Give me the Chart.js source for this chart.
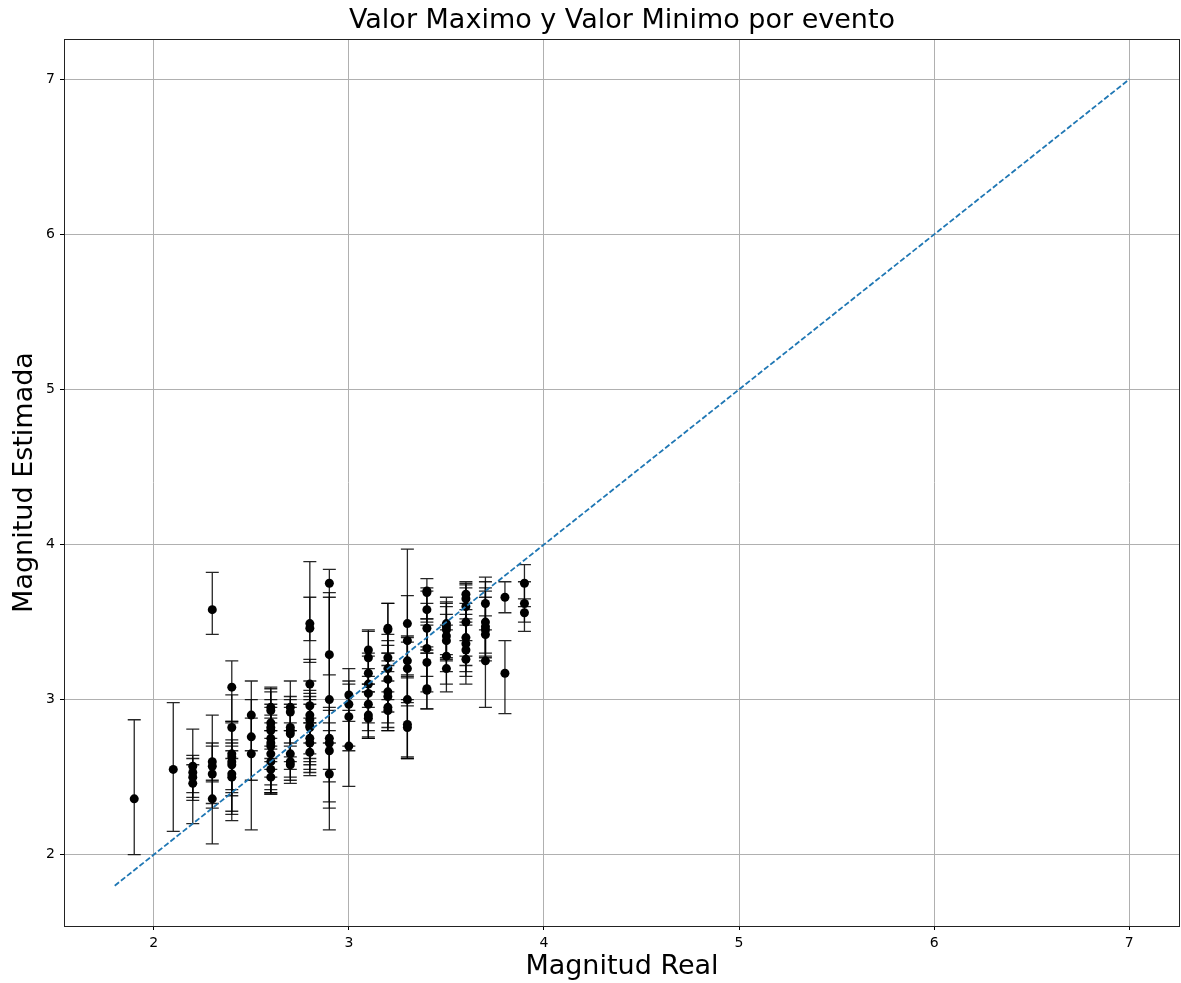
<!DOCTYPE html>
<html>
<head>
<meta charset="utf-8">
<title>Valor Maximo y Valor Minimo por evento</title>
<script src="https://cdn.jsdelivr.net/npm/chart.js@4.4.0/dist/chart.umd.min.js"></script>
<style>
  body { margin: 0; background: #fff; }
  canvas { display: block; }
</style>
</head>
<body>
<canvas id="graficoMagnitudes" width="1181" height="983"></canvas>
<script>
// magnitud real de cada evento (eje x)
var magReal = [
  1.9,
  2.1,
  2.2, 2.2, 2.2, 2.2,
  2.3, 2.3, 2.3, 2.3, 2.3,
  2.4, 2.4, 2.4, 2.4, 2.4, 2.4, 2.4, 2.4,
  2.5, 2.5, 2.5,
  2.6, 2.6, 2.6, 2.6, 2.6, 2.6, 2.6, 2.6, 2.6, 2.6, 2.6, 2.6,
  2.7, 2.7, 2.7, 2.7, 2.7, 2.7, 2.7, 2.7,
  2.8, 2.8, 2.8, 2.8, 2.8, 2.8, 2.8, 2.8, 2.8, 2.8, 2.8,
  2.9, 2.9, 2.9, 2.9, 2.9, 2.9, 2.9,
  3.0, 3.0, 3.0, 3.0,
  3.1, 3.1, 3.1, 3.1, 3.1, 3.1, 3.1, 3.1,
  3.2, 3.2, 3.2, 3.2, 3.2, 3.2, 3.2, 3.2, 3.2,
  3.3, 3.3, 3.3, 3.3, 3.3, 3.3, 3.3,
  3.4, 3.4, 3.4, 3.4, 3.4, 3.4, 3.4, 3.4,
  3.5, 3.5, 3.5, 3.5, 3.5, 3.5, 3.5,
  3.6, 3.6, 3.6, 3.6, 3.6, 3.6, 3.6, 3.6,
  3.7, 3.7, 3.7, 3.7, 3.7, 3.7,
  3.8, 3.8,
  3.9, 3.9, 3.9
];

// magnitud estimada (punto)
var magEstimada = [
  2.36,
  2.55,
  2.57, 2.53, 2.50, 2.46,
  3.58, 2.60, 2.57, 2.52, 2.36,
  3.08, 2.82, 2.65, 2.63, 2.60, 2.58, 2.52, 2.50,
  2.90, 2.76, 2.65,
  2.95, 2.93, 2.85, 2.82, 2.80, 2.75, 2.72, 2.70, 2.65, 2.60, 2.55, 2.50,
  2.95, 2.92, 2.82, 2.80, 2.78, 2.65, 2.60, 2.58,
  3.49, 3.46, 3.10, 2.96, 2.90, 2.87, 2.83, 2.82, 2.75, 2.72, 2.66,
  3.75, 3.29, 3.00, 2.75, 2.72, 2.67, 2.52,
  3.03, 2.97, 2.89, 2.70,
  3.32, 3.27, 3.17, 3.10, 3.04, 2.97, 2.90, 2.88,
  3.46, 3.45, 3.27, 3.20, 3.13, 3.05, 3.02, 2.95, 2.93,
  3.49, 3.38, 3.25, 3.20, 3.00, 2.84, 2.82,
  3.70, 3.69, 3.58, 3.46, 3.33, 3.24, 3.07, 3.06,
  3.49, 3.47, 3.45, 3.41, 3.38, 3.28, 3.20,
  3.68, 3.65, 3.60, 3.50, 3.40, 3.36, 3.32, 3.26,
  3.62, 3.50, 3.47, 3.45, 3.42, 3.25,
  3.66, 3.17,
  3.75, 3.62, 3.56
];

// valor minimo por evento
var valorMinimo = [
  2.00,
  2.15,
  2.37, 2.40, 2.35, 2.20,
  3.42, 2.48, 2.33, 2.07, 2.30,
  2.86, 2.62, 2.42, 2.40, 2.26, 2.38, 2.22, 2.28,
  2.67, 2.48, 2.16,
  2.80, 2.70, 2.62, 2.55, 2.60, 2.50, 2.45, 2.42, 2.40, 2.39, 2.40, 2.39,
  2.80, 2.72, 2.63, 2.60, 2.55, 2.50, 2.48, 2.46,
  3.24, 3.38, 2.85, 2.72, 2.65, 2.62, 2.60, 2.58, 2.55, 2.53, 2.51,
  3.16, 2.55, 2.72, 2.47, 2.34, 2.16, 2.30,
  2.86, 2.67, 2.70, 2.44,
  3.10, 3.05, 2.95, 2.85, 2.80, 2.75, 2.76, 2.75,
  3.25, 3.30, 3.05, 3.00, 2.92, 2.85, 2.82, 2.80, 2.80,
  3.14, 3.16, 2.98, 2.96, 2.63, 2.62, 2.62,
  3.50, 3.52, 3.34, 3.30, 3.15, 3.05, 2.94, 2.94,
  3.29, 3.27, 3.26, 3.25, 3.18, 3.10, 3.05,
  3.50, 3.48, 3.38, 3.28, 3.22, 3.18, 3.15, 3.10,
  3.45, 3.30, 3.27, 3.25, 3.28, 2.95,
  3.56, 2.91,
  3.60, 3.50, 3.44
];

// valor maximo por evento
var valorMaximo = [
  2.87,
  2.98,
  2.81, 2.64, 2.62, 2.58,
  3.82, 2.72, 2.70, 2.90, 2.47,
  3.25, 3.03, 2.86, 2.85, 2.74, 2.72, 2.70, 2.67,
  3.12, 3.00, 2.88,
  3.08, 3.07, 3.05, 3.00, 2.97, 2.95, 2.90, 2.88, 2.85, 2.80, 2.75, 2.68,
  3.12, 3.02, 3.00, 2.97, 2.95, 2.85, 2.80, 2.70,
  3.89, 3.66, 3.26, 3.12, 3.06, 3.04, 3.02, 3.00, 2.97, 2.88, 2.85,
  3.84, 3.69, 3.66, 2.95, 2.93, 2.85, 2.80,
  3.20, 3.12, 3.10, 2.93,
  3.45, 3.44, 3.30, 3.28, 3.20, 3.15, 3.10, 3.05,
  3.62, 3.62, 3.42, 3.38, 3.35, 3.30, 3.22, 3.18, 3.12,
  3.97, 3.67, 3.41, 3.40, 3.37, 3.15, 3.00,
  3.78, 3.72, 3.70, 3.62, 3.52, 3.48, 3.32, 3.30,
  3.66, 3.63, 3.62, 3.60, 3.55, 3.48, 3.45,
  3.76, 3.75, 3.74, 3.72, 3.62, 3.58, 3.55, 3.52,
  3.79, 3.76, 3.72, 3.70, 3.66, 3.54,
  3.76, 3.38,
  3.87, 3.76, 3.65
];

// recta de referencia y = x
var rectaX = [1.8, 7];
var rectaY = [1.8, 7];

var ticksEje = [2, 3, 4, 5, 6, 7];
var titulo = 'Valor Maximo y Valor Minimo por evento';

var puntos = magReal.map(function(v, i) { return {x: v, y: magEstimada[i]}; });
var recta = rectaX.map(function(v, i) { return {x: v, y: rectaY[i]}; });

var fuente = 'DejaVu Sans';

// barras de error, marco y titulo (centrado sobre el area del grafico)
var barrasError = {
  id: 'barrasError',
  beforeDatasetsDraw: function(chart) {
    var ctx = chart.ctx, sx = chart.scales.x, sy = chart.scales.y;
    ctx.save();
    ctx.strokeStyle = 'rgba(0,0,0,0.85)';
    ctx.lineWidth = 1.3;
    for (var i = 0; i < magReal.length; i++) {
      var px = sx.getPixelForValue(magReal[i]);
      var pMin = sy.getPixelForValue(valorMinimo[i]);
      var pMax = sy.getPixelForValue(valorMaximo[i]);
      ctx.beginPath();
      ctx.moveTo(px, pMin); ctx.lineTo(px, pMax);
      ctx.moveTo(px - 6.5, pMin); ctx.lineTo(px + 6.5, pMin);
      ctx.moveTo(px - 6.5, pMax); ctx.lineTo(px + 6.5, pMax);
      ctx.stroke();
    }
    ctx.restore();
  },
  afterDraw: function(chart) {
    var a = chart.chartArea, ctx = chart.ctx;
    ctx.save();
    ctx.strokeStyle = '#222';
    ctx.lineWidth = 1;
    ctx.strokeRect(Math.round(a.left) + 0.5, Math.round(a.top) + 0.5,
      Math.round(a.right - a.left) - 1, Math.round(a.bottom - a.top));
    ctx.fillStyle = '#000';
    ctx.font = '27px "' + fuente + '"';
    ctx.textAlign = 'center';
    ctx.textBaseline = 'middle';
    ctx.fillText(titulo, (a.left + a.right) / 2, 21);
    ctx.restore();
  }
};

var opcionesEje = function(texto, pad) {
  return {
    type: 'linear',
    min: 1.54,
    max: 7.26,
    afterBuildTicks: function(scale) {
      scale.ticks = ticksEje.map(function(v) { return {value: v}; });
    },
    border: { display: false },
    grid: { color: '#b0b0b0', lineWidth: 1, tickLength: 4, tickColor: '#000' },
    ticks: { color: '#000', padding: 5, font: { family: fuente, size: 14 } },
    title: { display: true, text: texto, color: '#000', padding: pad, font: { family: fuente, size: 27 } }
  };
};

var ejeX = opcionesEje('Magnitud Real', { top: 0, bottom: 0 });
ejeX.afterFit = function(scale) {
  scale.height = 57;
  scale.paddingLeft = 0;
  scale.paddingRight = 0;
};
var ejeY = opcionesEje('Magnitud Estimada', { top: 9, bottom: 0 });
ejeY.afterFit = function(scale) { scale.width = 64; };

var grafico = new Chart(document.getElementById('graficoMagnitudes').getContext('2d'), {
  type: 'scatter',
  data: {
    datasets: [{
      data: puntos,
      order: 2,
      pointRadius: 4.5,
      pointHoverRadius: 4.5,
      backgroundColor: '#000',
      borderColor: '#000',
      borderWidth: 0
    }, {
      type: 'line',
      data: recta,
      order: 1,
      borderColor: '#1f77b4',
      borderWidth: 1.8,
      borderDash: [5.5, 2.4],
      pointRadius: 0,
      fill: false
    }]
  },
  options: {
    responsive: false,
    animation: false,
    layout: { autoPadding: false, padding: { left: 0, right: 1, top: 39, bottom: 0 } },
    plugins: {
      legend: { display: false },
      tooltip: { enabled: false },
      title: { display: false }
    },
    scales: { x: ejeX, y: ejeY }
  },
  plugins: [barrasError]
});
</script>
</body>
</html>
